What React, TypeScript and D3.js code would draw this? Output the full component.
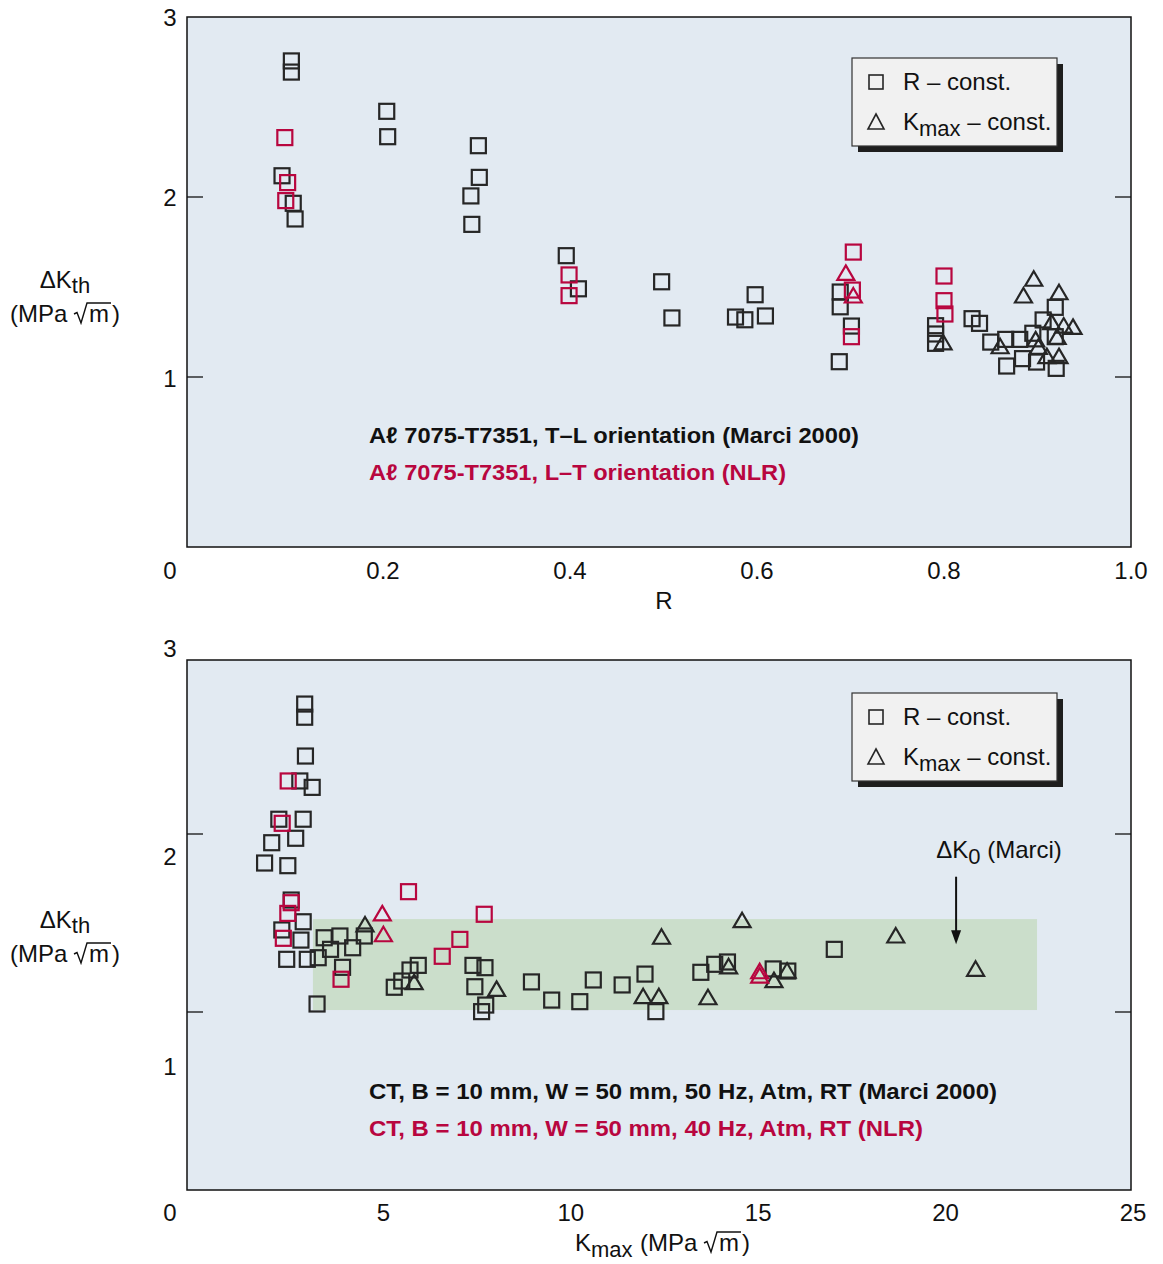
import React from "react";
import * as d3 from "d3";

// ---------- data ----------
// Top panel: x = R, y = ΔKth
const topBlackSquares: [number, number][] = [
  [0.102, 2.756], [0.102, 2.694], [0.092, 2.118], [0.104, 1.965], [0.106, 1.878],
  [0.204, 2.476], [0.205, 2.335], [0.302, 2.285], [0.303, 2.109], [0.294, 2.006], [0.295, 1.848],
  [0.396, 1.674], [0.409, 1.49], [0.498, 1.529], [0.509, 1.328], [0.598, 1.457], [0.577, 1.333],
  [0.587, 1.318], [0.609, 1.339], [0.689, 1.472], [0.689, 1.39], [0.701, 1.283], [0.688, 1.085],
  [0.791, 1.285], [0.791, 1.239], [0.791, 1.187], [0.830, 1.324], [0.838, 1.298], [0.850, 1.194],
  [0.866, 1.209], [0.867, 1.061], [0.881, 1.209], [0.884, 1.102], [0.895, 1.243], [0.899, 1.083],
  [0.906, 1.317], [0.919, 1.387], [0.919, 1.224], [0.920, 1.048],
];
const topBlackTriangles: [number, number][] = [
  [0.799, 1.19], [0.860, 1.168], [0.896, 1.543], [0.885, 1.45], [0.898, 1.206], [0.901, 1.165],
  [0.910, 1.113], [0.923, 1.468], [0.915, 1.302], [0.928, 1.283], [0.938, 1.276], [0.921, 1.22],
  [0.923, 1.113],
];
const topRedSquares: [number, number][] = [
  [0.095, 2.33], [0.098, 2.08], [0.096, 1.98], [0.399, 1.567], [0.399, 1.452],
  [0.703, 1.694], [0.702, 1.483], [0.701, 1.224], [0.80, 1.561], [0.80, 1.424], [0.801, 1.35],
];
const topRedTriangles: [number, number][] = [[0.695, 1.576], [0.703, 1.45]];

// Bottom panel: x = Kmax, y = ΔKth
const botBlackSquares: [number, number][] = [
  [2.90, 2.73], [2.90, 2.656], [2.92, 2.438], [2.77, 2.298], [3.10, 2.262], [2.21, 2.083],
  [2.86, 2.083], [2.02, 1.951], [2.66, 1.976], [1.83, 1.837], [2.45, 1.822], [2.54, 1.629],
  [2.86, 1.507], [2.29, 1.461], [2.80, 1.404], [2.42, 1.296], [2.97, 1.296], [3.26, 1.305],
  [3.42, 1.417], [3.84, 1.427], [3.59, 1.352], [4.18, 1.361], [4.49, 1.427], [3.91, 1.251],
  [3.23, 1.045], [5.93, 1.262], [5.71, 1.236], [5.49, 1.174], [5.29, 1.139], [7.39, 1.262],
  [7.71, 1.249], [7.44, 1.142], [7.73, 1.039], [7.62, 1.002], [8.95, 1.169], [9.49, 1.067],
  [10.24, 1.058], [10.60, 1.18], [11.37, 1.152], [11.98, 1.213], [12.27, 1.002], [13.47, 1.223],
  [13.84, 1.268], [14.18, 1.281], [15.40, 1.242], [15.79, 1.23], [17.03, 1.352],
];
const botBlackTriangles: [number, number][] = [
  [4.51, 1.489], [5.82, 1.165], [8.02, 1.127], [12.42, 1.42], [11.93, 1.086], [12.35, 1.086],
  [13.66, 1.08], [14.21, 1.254], [14.57, 1.513], [15.42, 1.176], [15.77, 1.23], [18.67, 1.427],
  [20.80, 1.24],
];
const botRedSquares: [number, number][] = [
  [2.46, 2.298], [2.30, 2.06], [2.54, 1.614], [2.45, 1.554], [2.33, 1.414], [3.87, 1.184],
  [5.67, 1.676], [6.57, 1.313], [7.04, 1.408], [7.69, 1.549],
];
const botRedTriangles: [number, number][] = [[4.97, 1.551], [5.00, 1.434], [15.04, 1.226], [15.04, 1.202]];

// ΔK0 (Marci) band and arrow
const bandK: [number, number] = [3.12, 22.44];
const bandDK: [number, number] = [1.011, 1.522];
const arrowK = 20.28;
const arrowDK: [number, number] = [1.76, 1.38];

// tick labels
const topXTicks = [0.2, 0.4, 0.6, 0.8, 1.0];
const botXTicks = [5, 10, 15, 20, 25];
const yTickLabels = [1, 2, 3];
const yTickMarks = [1, 2];

// text
const topNotes = ["A\u2113 7075-T7351, T\u2013L orientation (Marci 2000)", "A\u2113 7075-T7351, L\u2013T orientation (NLR)"];
const botNotes = ["CT, B = 10 mm, W = 50 mm, 50 Hz, Atm, RT (Marci 2000)", "CT, B = 10 mm, W = 50 mm, 40 Hz, Atm, RT (NLR)"];

// ---------- styles ----------
const BLACK = "#262626";
const RED = "#b8063f";
const PANEL = "#e2eaf2";
const BAND = "#cbdecb";
const FONT = "'Liberation Sans', Arial, Helvetica, sans-serif";
const FS = 24;

const Square = ({ x, y, c }: { x: number; y: number; c: string }) => (
  <rect x={x - 7.5} y={y - 7.5} width={15} height={15} fill="none" stroke={c} strokeWidth={2.2} />
);
const Tri = ({ x, y, c }: { x: number; y: number; c: string }) => (
  <path d={`M${x},${y - 8}L${x + 8.5},${y + 6.5}L${x - 8.5},${y + 6.5}Z`} fill="none" stroke={c} strokeWidth={2.2} strokeLinejoin="miter" />
);

const Legend = ({ x, y }: { x: number; y: number }) => (
  <g>
    <rect x={x + 6} y={y + 6} width={205} height={88} fill="#1e1e1e" />
    <rect x={x} y={y} width={205} height={88} fill="#f1f1f1" stroke="#333" strokeWidth={1.2} />
    <rect x={x + 17} y={y + 17} width={14} height={14} fill="none" stroke={BLACK} strokeWidth={1.6} />
    <text x={x + 51} y={y + 32} fontSize={FS} fontFamily={FONT} fill="#111">R – const.</text>
    <path d={`M${x + 24},${y + 56}L${x + 32},${y + 71}L${x + 16},${y + 71}Z`} fill="none" stroke={BLACK} strokeWidth={1.6} />
    <text x={x + 51} y={y + 72} fontSize={FS} fontFamily={FONT} fill="#111">
      K<tspan fontSize={22} dy={6}>max</tspan><tspan dy={-6}> – const.</tspan>
    </text>
  </g>
);

// "(MPa√m)" with a drawn radical: x = left edge, y = baseline
const Unit = ({ x, y }: { x: number; y: number }) => {
  const a = x + 59; // end of "(MPa"
  return (
    <g fill="#111" fontSize={FS} fontFamily={FONT}>
      <text x={x} y={y}>(MPa</text>
      <path d={`M${a + 5},${y - 8}L${a + 8},${y - 9.5}L${a + 12},${y + 1}L${a + 18},${y - 19}L${a + 42},${y - 19}`} fill="none" stroke="#111" strokeWidth={1.4} />
      <text x={a + 20} y={y}>m</text>
      <text x={a + 43} y={y}>)</text>
    </g>
  );
};

export default function App() {
  // top panel
  const tL = 187, tR = 1131, tT = 17, tB = 547;
  const tx = d3.scaleLinear().domain([0, 1]).range([196, 1131]);
  const ty = d3.scaleLinear().domain([1, 2]).range([377, 197]);
  // bottom panel
  const bL = 187, bR = 1131, bT = 660, bB = 1190;
  const bx = d3.scaleLinear().domain([0, 25]).range([196, 1133]);
  const by = d3.scaleLinear().domain([1, 2]).range([1012, 834]);
  // y tick label positions (as printed in the reference)
  const topLab = d3.scaleLinear().domain([1, 2, 3]).range([378, 197, 17]);
  const botLab = d3.scaleLinear().domain([1, 2, 3]).range([1066, 856, 648]);

  return (
    <svg width={1163} height={1264} style={{ position: "absolute", left: 0, top: 0, background: "#fff" }} fontFamily={FONT}>
      {/* ---------- TOP PANEL ---------- */}
      <rect x={tL} y={tT} width={tR - tL} height={tB - tT} fill={PANEL} stroke="#111" strokeWidth={1.5} />
      {yTickMarks.map((v) => (
        <g key={"tt" + v} stroke="#111" strokeWidth={1.3}>
          <line x1={tL} x2={tL + 16} y1={ty(v)} y2={ty(v)} />
          <line x1={tR - 16} x2={tR} y1={ty(v)} y2={ty(v)} />
        </g>
      ))}
      {yTickLabels.map((v) => (
        <text key={"tyl" + v} x={170} y={topLab(v)} dy="0.36em" fontSize={FS} textAnchor="middle" fill="#111">{v}</text>
      ))}
      <text x={170} y={570} dy="0.36em" fontSize={FS} textAnchor="middle" fill="#111">0</text>
      {topXTicks.map((v) => (
        <text key={"txl" + v} x={tx(v)} y={570} dy="0.36em" fontSize={FS} textAnchor="middle" fill="#111">{v.toFixed(1)}</text>
      ))}
      <text x={664} y={600} dy="0.36em" fontSize={FS} textAnchor="middle" fill="#111">R</text>
      <text x={65} y={288} fontSize={FS} textAnchor="middle" fill="#111">
        ΔK<tspan fontSize={22} dy={5}>th</tspan>
      </text>
      <Unit x={10} y={322} />
      {topBlackSquares.map(([x, y], i) => <Square key={"tbs" + i} x={tx(x)} y={ty(y)} c={BLACK} />)}
      {topBlackTriangles.map(([x, y], i) => <Tri key={"tbt" + i} x={tx(x)} y={ty(y)} c={BLACK} />)}
      {topRedSquares.map(([x, y], i) => <Square key={"trs" + i} x={tx(x)} y={ty(y)} c={RED} />)}
      {topRedTriangles.map(([x, y], i) => <Tri key={"trt" + i} x={tx(x)} y={ty(y)} c={RED} />)}
      <text x={369} y={443} fontSize={22.5} fontWeight="bold" fill="#111" textLength={490} lengthAdjust="spacingAndGlyphs">{topNotes[0]}</text>
      <text x={369} y={480} fontSize={22.5} fontWeight="bold" fill={RED} textLength={417} lengthAdjust="spacingAndGlyphs">{topNotes[1]}</text>
      <Legend x={852} y={58} />

      {/* ---------- BOTTOM PANEL ---------- */}
      <rect x={bL} y={bT} width={bR - bL} height={bB - bT} fill={PANEL} stroke="#111" strokeWidth={1.5} />
      <rect x={bx(bandK[0])} y={by(bandDK[1])} width={bx(bandK[1]) - bx(bandK[0])} height={by(bandDK[0]) - by(bandDK[1])} fill={BAND} />
      {yTickMarks.map((v) => (
        <g key={"bt" + v} stroke="#111" strokeWidth={1.3}>
          <line x1={bL} x2={bL + 16} y1={by(v)} y2={by(v)} />
          <line x1={bR - 16} x2={bR} y1={by(v)} y2={by(v)} />
        </g>
      ))}
      {yTickLabels.map((v) => (
        <text key={"byl" + v} x={170} y={botLab(v)} dy="0.36em" fontSize={FS} textAnchor="middle" fill="#111">{v}</text>
      ))}
      <text x={170} y={1212} dy="0.36em" fontSize={FS} textAnchor="middle" fill="#111">0</text>
      {botXTicks.map((v) => (
        <text key={"bxl" + v} x={bx(v)} y={1212} dy="0.36em" fontSize={FS} textAnchor="middle" fill="#111">{v}</text>
      ))}
      <text x={575} y={1251} fontSize={FS} fill="#111">
        K<tspan fontSize={22} dy={6}>max</tspan>
      </text>
      <Unit x={640} y={1251} />
      <text x={65} y={928} fontSize={FS} textAnchor="middle" fill="#111">
        ΔK<tspan fontSize={22} dy={5}>th</tspan>
      </text>
      <Unit x={10} y={962} />
      {botBlackSquares.map(([x, y], i) => <Square key={"bbs" + i} x={bx(x)} y={by(y)} c={BLACK} />)}
      {botBlackTriangles.map(([x, y], i) => <Tri key={"bbt" + i} x={bx(x)} y={by(y)} c={BLACK} />)}
      {botRedSquares.map(([x, y], i) => <Square key={"brs" + i} x={bx(x)} y={by(y)} c={RED} />)}
      {botRedTriangles.map(([x, y], i) => <Tri key={"brt" + i} x={bx(x)} y={by(y)} c={RED} />)}
      {/* arrow */}
      <line x1={bx(arrowK)} x2={bx(arrowK)} y1={by(arrowDK[0])} y2={by(arrowDK[1]) - 10} stroke="#111" strokeWidth={2} />
      <path d={`M${bx(arrowK) - 5},${by(arrowDK[1]) - 14}L${bx(arrowK) + 5},${by(arrowDK[1]) - 14}L${bx(arrowK)},${by(arrowDK[1])}Z`} fill="#111" />
      <text x={999} y={858} fontSize={FS} textAnchor="middle" fill="#111">
        ΔK<tspan fontSize={22} dy={6}>0</tspan><tspan dy={-6}> (Marci)</tspan>
      </text>
      <text x={369} y={1099} fontSize={22.5} fontWeight="bold" fill="#111" textLength={628} lengthAdjust="spacingAndGlyphs">{botNotes[0]}</text>
      <text x={369} y={1136} fontSize={22.5} fontWeight="bold" fill={RED} textLength={554} lengthAdjust="spacingAndGlyphs">{botNotes[1]}</text>
      <Legend x={852} y={693} />
    </svg>
  );
}
